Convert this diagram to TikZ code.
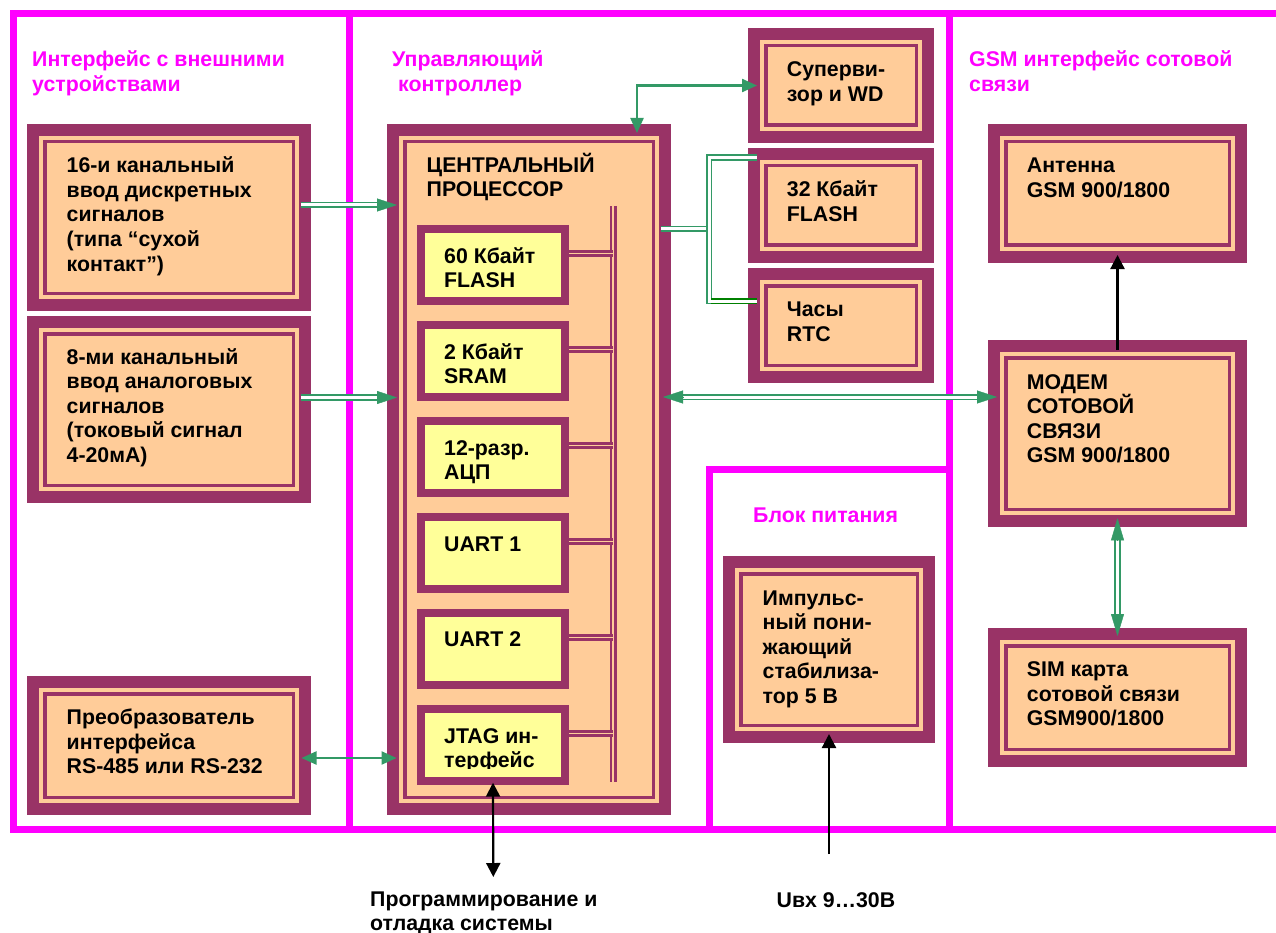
\documentclass[tikz,border=0pt]{standalone}
\usepackage{fontspec}
\setmainfont{Liberation Sans}
\usetikzlibrary{calc,arrows.meta}
\definecolor{mar}{HTML}{993366}
\definecolor{pch}{HTML}{FFCC99}
\definecolor{ylw}{HTML}{FFFF99}
\definecolor{mgn}{HTML}{FF00FF}
\definecolor{grn}{HTML}{339966}
\definecolor{dgrn}{HTML}{008000}
\newcommand\bfnt{\fontsize{21.3}{24.5}\selectfont\bfseries}
\newcommand\ghd[3][20pt]{\draw[grn, line width=0.4pt, -{Triangle[length=#1,width=13pt]}] ($#3!#1!#2$) -- #3;}
\tikzset{
  mbox/.style={rectangle, inner sep=0pt, outer sep=0pt, fill=mar, anchor=north west,
    path picture={
      \fill[pch] ($(path picture bounding box.south west)+(12,12)$) rectangle ($(path picture bounding box.north east)+(-12,-12)$);
      \draw[mar, line width=3.5pt] ($(path picture bounding box.south west)+(17.75,17.75)$) rectangle ($(path picture bounding box.north east)+(-17.75,-17.75)$);
    }},
  ybox/.style={rectangle, inner sep=0pt, outer sep=0pt, fill=mar, anchor=north west,
    minimum width=152pt, minimum height=80pt,
    path picture={
      \fill[ylw] ($(path picture bounding box.south west)+(8,8)$) rectangle ($(path picture bounding box.north east)+(-8,-8)$);
    }},
  btxt/.style={font=\bfnt, anchor=base west, align=left, inner sep=0pt, text=black},
  ttl/.style={btxt, text=mgn},
  frame/.style={draw=mgn, line width=7pt},
  bus/.style={draw=mar, double=pch, line width=2.7pt, double distance=2pt},
  stub/.style={draw=mar, double=pch, line width=2.5pt, double distance=1.2pt},
  gdbl/.style={draw=grn, double=white, line width=1.7pt, double distance=3pt},
  garr/.style={draw=grn, line width=2.3pt, {Triangle[length=15pt,width=13pt]}-{Triangle[length=15pt,width=13pt]}},
  barr/.style={draw=black, line width=2.2pt, -{Triangle[length=14pt,width=14pt]}},
  bbarr/.style={draw=black, line width=2.2pt, {Triangle[length=14pt,width=14pt]}-{Triangle[length=14pt,width=14pt]}},
}
\begin{document}
\begin{tikzpicture}[x=1pt,y=1pt]
\useasboundingbox (0,0) rectangle (1276,-933);
\fill[white] (0,0) rectangle (1276,-933);

% magenta frames
\begin{scope}
\clip (0,0) rectangle (1276,-933);
\draw[frame] (13,-13.3) rectangle (1295,-829.7);
\draw[frame] (349,-13.3) -- (349,-829.7);
\draw[frame] (949,-13.3) -- (949,-829.7);
\draw[frame] (949,-469.5) -- (709.5,-469.5) -- (709.5,-829.7);
\end{scope}

% titles (anchor = baseline of last line)
\node[ttl] (t1) at (32,-91.5) {Интерфейс с внешними\\устройствами};
\node[ttl] (t2) at (392,-91.5) {Управляющий\\\hspace*{6pt}контроллер};
\node[ttl] (t3) at (969,-91.5) {GSM интерфейс сотовой\\связи};
\node[ttl] (t4) at (753,-522.5) {Блок питания};

% left column
\node[mbox, minimum width=284pt, minimum height=187pt] (in16) at (27,-124) {};
\node[mbox, minimum width=284pt, minimum height=187pt] (in8) at (27,-316) {};
\node[mbox, minimum width=284pt, minimum height=139pt] (conv) at (27,-676) {};
\node[btxt] at ([shift={(39.5,-49-98)}]in16.north west) {16-и канальный\\ввод дискретных\\сигналов\\(типа “сухой\\контакт”)};
\node[btxt] at ([shift={(39.5,-48-98)}]in8.north west) {8-ми канальный\\ввод аналоговых\\сигналов\\(токовый сигнал\\4-20мА)};
\node[btxt] at ([shift={(39.5,-48.5-49)}]conv.north west) {Преобразователь\\интерфейса\\RS-485 или RS-232};

% CPU
\node[mbox, minimum width=284pt, minimum height=691pt] (cpu) at (387,-124) {};
\node[btxt] at ([shift={(39.5,-48.5-24.5)}]cpu.north west) {ЦЕНТРАЛЬНЫЙ\\ПРОЦЕССОР};
\node[ybox] (flash60) at (417,-225) {};
\node[ybox] (sram) at (417,-321) {};
\node[ybox] (adc) at (417,-417) {};
\node[ybox] (uart1) at (417,-513) {};
\node[ybox] (uart2) at (417,-609) {};
\node[ybox] (jtag) at (417,-705) {};
\node[btxt] at ([shift={(27,-38-24.5)}]flash60.north west) {60 Кбайт\\FLASH};
\node[btxt] at ([shift={(27,-38-24.5)}]sram.north west) {2 Кбайт\\SRAM};
\node[btxt] at ([shift={(27,-38-24.5)}]adc.north west) {12-разр.\\АЦП};
\node[btxt] at ([shift={(27,-38)}]uart1.north west) {UART 1};
\node[btxt] at ([shift={(27,-37)}]uart2.north west) {UART 2};
\begin{scope}
\clip ([shift={(8,-8)}]jtag.north west) rectangle ([shift={(-8,17)}]jtag.south east);
\node[btxt] at ([shift={(27,-38-24.5)}]jtag.north west) {JTAG ин-\\терфейс};
\end{scope}
% bus
\coordinate (bustop) at ([shift={(226.3,-82)}]cpu.north west);
\coordinate (busbot) at ([shift={(226.3,-658)}]cpu.north west);
\draw[bus] (bustop) -- (busbot);
\foreach \b in {flash60,sram,adc,uart1,uart2,jtag}
  \draw[stub] ([yshift=11.5]\b.east) -- ++(44,0);

% middle right boxes
\node[mbox, minimum width=186pt, minimum height=115pt] (sup) at (748,-28) {};
\node[mbox, minimum width=186pt, minimum height=115pt] (flash32) at (748,-148) {};
\node[mbox, minimum width=186pt, minimum height=115pt] (rtc) at (748,-268) {};
\node[btxt] at ([shift={(38.7,-48.7-24.5)}]sup.north west) {Суперви-\\зор и WD};
\node[btxt] at ([shift={(38.7,-48.7-24.5)}]flash32.north west) {32 Кбайт\\FLASH};
\node[btxt] at ([shift={(38.7,-48.7-24.5)}]rtc.north west) {Часы\\RTC};

% power
\node[mbox, minimum width=212pt, minimum height=187pt] (psu) at (723,-556) {};
\node[btxt] at ([shift={(39.5,-49-98)}]psu.north west) {Импульс-\\ный пони-\\жающий\\стабилиза-\\тор 5 В};

% right column
\node[mbox, minimum width=259pt, minimum height=139pt] (ant) at (988,-124) {};
\node[mbox, minimum width=259pt, minimum height=187pt] (modem) at (988,-340) {};
\node[mbox, minimum width=259pt, minimum height=139pt] (sim) at (988,-628) {};
\node[btxt] at ([shift={(38.7,-49-24.5)}]ant.north west) {Антенна\\GSM 900/1800};
\node[btxt] at ([shift={(38.7,-49.3-73.5)}]modem.north west) {МОДЕМ\\СОТОВОЙ\\СВЯЗИ\\GSM 900/1800};
\node[btxt] at ([shift={(38.7,-48.7-49)}]sim.north west) {SIM карта\\сотовой связи\\GSM900/1800};

% bottom labels
\node[btxt] (prog) at (370,-930.5) {Программирование и\\отладка системы};
\node[btxt] (uin) at (776.5,-907.3) {Uвх 9…30В};
\coordinate (progend) at (493.3,-877);
\coordinate (uinend) at (829,-854);

% connectors
\coordinate (c1s) at ([shift={(-10,12.5)}]in16.east);
\coordinate (c1e) at ([shift={(10,264.5)}]cpu.west);
\draw[gdbl, shorten >=18pt] (c1s) -- (c1e);
\ghd{(c1s)}{(c1e)}

\coordinate (c2s) at ([shift={(-10,12)}]in8.east);
\coordinate (c2e) at ([shift={(10,72)}]cpu.west);
\draw[gdbl, shorten >=18pt] (c2s) -- (c2e);
\ghd{(c2s)}{(c2e)}

\draw[garr] ([shift={(-9.5,-12.5)}]conv.east) -- ([shift={(9.5,-288.5)}]cpu.west);

\draw[garr] ([shift={(108,-9)}]cpu.north) |- ([xshift=9]sup.west);

\draw[gdbl] ([shift={(-10,240.5)}]cpu.east) -- ([shift={(-39,96.5)}]rtc.west);
\draw[gdbl] ([shift={(9,48)}]flash32.west) -| ([shift={(-39,24.5)}]rtc.west) -- ([shift={(9,24.5)}]rtc.west);
\draw[draw=dgrn, double=white, line width=1.7pt, double distance=3pt] ([shift={(-37,24.5)}]rtc.west) -- ([shift={(9,24.5)}]rtc.west);

\coordinate (c6s) at ([shift={(-8,72.5)}]cpu.east);
\coordinate (c6e) at ([shift={(9,36.5)}]modem.west);
\draw[gdbl, shorten >=18pt, shorten <=18pt] (c6s) -- (c6e);
\ghd{(c6s)}{(c6e)}
\ghd{(c6e)}{(c6s)}

\coordinate (c8s) at ([yshift=8.7]modem.south);
\coordinate (c8e) at ([yshift=-8]sim.north);
\draw[draw=grn, double=white, line width=2.2pt, double distance=3pt, shorten >=20pt, shorten <=20pt] (c8s) -- (c8e);
\ghd[22pt]{(c8s)}{(c8e)}
\ghd[22pt]{(c8e)}{(c8s)}

\draw[barr] ([yshift=-10]modem.north) -- ([yshift=8]ant.south);
\draw[bbarr] ([yshift=2.3]jtag.south) -- (progend);
\draw[barr] (uinend) -- ([yshift=9]psu.south);
\end{tikzpicture}
\end{document}
